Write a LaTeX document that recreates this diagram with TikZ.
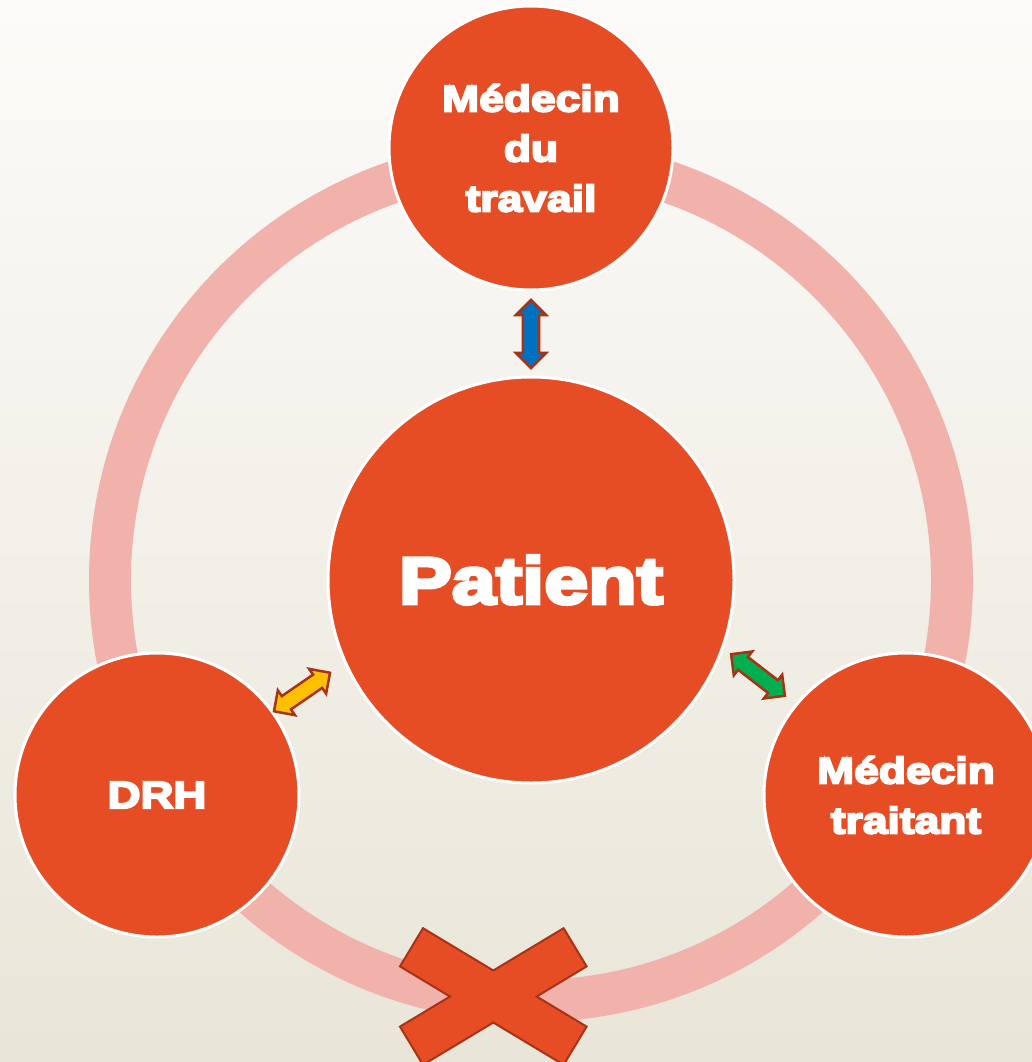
\documentclass[tikz,border=0pt]{standalone}
\usepackage{fontspec}
\newfontfamily\heavy{Liberation Sans}[BoldFeatures={FakeBold=5.5,FakeStretch=1.2}]
\usetikzlibrary{shapes.arrows}
\definecolor{bgtop}{RGB}{252,251,249}
\definecolor{bgbot}{RGB}{233,229,216}
\definecolor{disc}{RGB}{231,77,36}
\definecolor{ringc}{RGB}{242,178,172}
\definecolor{edge}{RGB}{168,50,22}
\definecolor{arblue}{RGB}{0,112,192}
\definecolor{aryellow}{RGB}{255,192,0}
\definecolor{argreen}{RGB}{0,176,80}
\begin{document}
\begin{tikzpicture}[x=1pt,y=-1pt,
  disc/.style={circle, fill=disc, draw=white, line width=3pt, text=white,
    align=center, inner sep=0pt},
  small/.style={font=\heavy\bfseries\fontsize{37}{50}\selectfont},
  link/.style={double arrow, draw=edge, line width=2.5pt, line join=miter,
    double arrow head extend=7pt, minimum height=68pt,
    inner xsep=0pt, inner ysep=6.8pt}]
\useasboundingbox (0,0) rectangle (1032,1062);
\clip (0,0) rectangle (1032,1062);
% backdrop
\shade[top color=bgtop, bottom color=bgbot] (0,0) rectangle (1032,1062);
% the ring joining the three partners
\draw[ringc, line width=42pt] (531,580) circle[radius=421];
% partners and patient
\node[disc, small, minimum size=284pt] (mt) at (531,148) {Médecin\\du\\travail};
\node[disc, small, minimum size=284pt] (drh) at (157,795) {\fontsize{38}{48}\selectfont DRH};
\node[disc, small, minimum size=284pt] (mtr) at (906,795) {Médecin\\traitant};
\node[disc, minimum size=406pt, font=\heavy\bfseries\fontsize{66}{70}\selectfont] (pat) at (531,580) {Patient};
% exchanges
\node[link, fill=arblue, rotate=90] (a1) at (531,334) {};
\node[link, fill=aryellow, rotate=34.5] (a2) at (302,692) {};
\node[link, fill=argreen, rotate=-37.7] (a3) at (758,675) {};
% broken link between DRH and treating doctor
\filldraw[fill=disc, draw=edge, line width=2pt, line join=miter]
  (423.0,928.2) -- (493.3,970.5) -- (563.6,928.2) -- (586.6,966.4)
  -- (536.6,996.5) -- (586.6,1026.6) -- (563.6,1064.8) -- (493.3,1022.5)
  -- (423.0,1064.8) -- (400.0,1026.6) -- (450.0,996.5) -- (400.0,966.4) -- cycle;
\end{tikzpicture}
\end{document}
